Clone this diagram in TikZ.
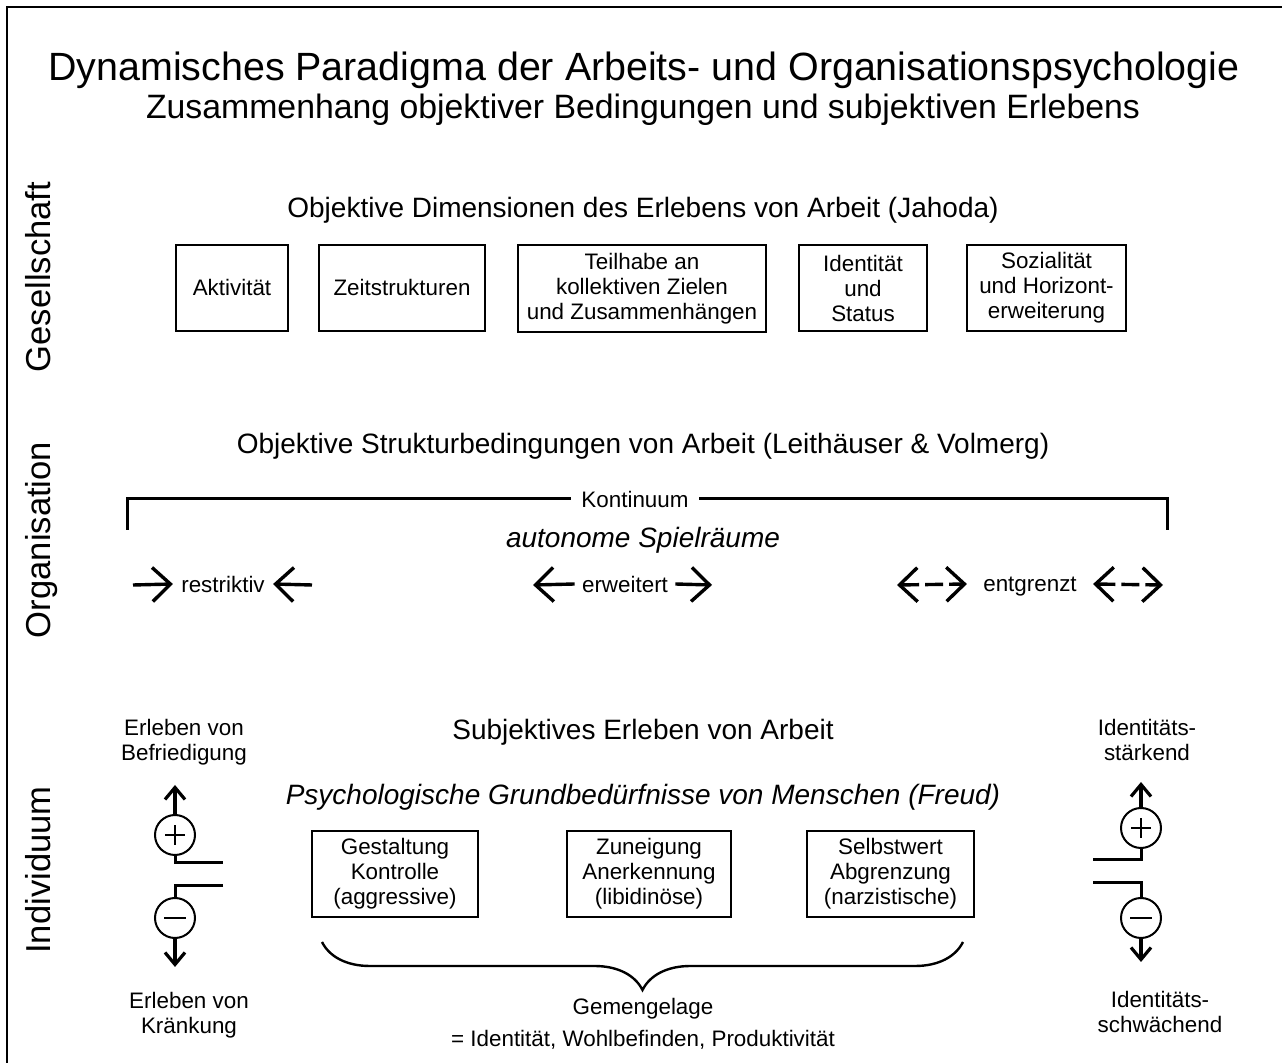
\documentclass[tikz,border=0pt]{standalone}
\usepackage{fontspec}
\setmainfont{Liberation Sans}
\usetikzlibrary{arrows.meta,decorations.pathreplacing}

\newcommand{\dpTitle}{\fontsize{19.7}{23}\selectfont}
\newcommand{\dpSub}{\fontsize{16.9}{20}\selectfont}
\newcommand{\dpHead}{\fontsize{14}{17}\selectfont}
\newcommand{\dpSide}{\fontsize{17.3}{20}\selectfont}
\newcommand{\dpSmall}{\fontsize{11.2}{12.5}\selectfont}

\begin{document}
\begin{tikzpicture}[x=0.5pt,y=0.5pt,yscale=-1,xscale=1,
  box/.style={draw,line width=0.9pt,align=center,font=\dpSmall,inner sep=0pt},
  txt/.style={align=center,font=\dpSmall},
  head/.style={font=\dpHead},
  side/.style={font=\dpSide,rotate=90,anchor=base},
  orgarrow/.style={line width=1.7pt,-{Straight Barb[length=9pt,width=17pt]}},
  orgdash/.style={line width=1.7pt,dash pattern=on 9pt off 3pt,{Straight Barb[length=9pt,width=17pt]}-{Straight Barb[length=9pt,width=17pt]}},
  bracket/.style={line width=1.5pt},
  sign/.style={draw,circle,line width=1pt,minimum size=20pt,inner sep=0pt},
  plus/.style={sign,path picture={\draw[line width=0.8pt] ([xshift=-5pt]path picture bounding box.center) -- ([xshift=5pt]path picture bounding box.center) ([yshift=-5pt]path picture bounding box.center) -- ([yshift=5pt]path picture bounding box.center);}},
  minus/.style={sign,path picture={\draw[line width=0.8pt] ([xshift=-5.5pt]path picture bounding box.center) -- ([xshift=5.5pt]path picture bounding box.center);}},
  signline/.style={line width=1.5pt},
  signarrow/.style={line width=1.6pt,-{Straight Barb[length=6pt,width=10pt]}}]
\useasboundingbox (0,0) rectangle (1282,1063);

%Frame
\draw [line width=1pt] (7,1063) -- (7,7) -- (1282,7) ;

% Title
\node (tit) at (644,70) [font=\dpTitle] {Dynamisches Paradigma der Arbeits- und Organisationspsychologie};
\node (subtit) at (643,110) [font=\dpSub] {Zusammenhang objektiver Bedingungen und subjektiven Erlebens};

% Side labels
\node (gesell) at (50,277) [side] {Gesellschaft};
\node (organis) at (50,540) [side] {Organisation};
\node (indiv) at (50,870) [side] {Individuum};

% Gesellschaft
\node (dimhead) at (643,210) [head] {Objektive Dimensionen des Erlebens von Arbeit (Jahoda)};
\node (akt) at (232,288) [box,minimum width=56pt,minimum height=43pt] {Aktivität};
\node (zeit) at (402,288) [box,minimum width=83pt,minimum height=43pt] {Zeitstrukturen};
\node (teil) at (642,288.5) [box,minimum width=124pt,minimum height=43.5pt] {Teilhabe an\\kollektiven Zielen\\und Zusammenhängen};
\node (ident) at (863,288) [box,minimum width=64pt,minimum height=43pt] {Identität\\und\\Status};
\node (sozial) at (1046.5,288) [box,minimum width=79.5pt,minimum height=43pt] {Sozialität\\und Horizont-\\erweiterung};

% Organisation
\node (strukhead) at (643,446) [head] {Objektive Strukturbedingungen von Arbeit (Leithäuser \& Volmerg)};
\node (kont) at (635,499) [txt,inner xsep=5pt] {Kontinuum};
\coordinate (kontL) at (127,530);
\coordinate (kontR) at (1167,530);
\draw [bracket] (kontL) |- (kont.west) ;
\draw [bracket] (kontR) |- (kont.east) ;
\node (autonom) at (643,540) [head,font=\dpHead\itshape] {autonome Spielräume};

\node (restr) at (223,584) [txt,inner xsep=4pt] {restriktiv};
\coordinate (restrA) at (133,585);
\coordinate (restrB) at (312,585);
\draw [orgarrow] (restrA) -- (restr.west) ;
\draw [orgarrow] (restrB) -- (restr.east) ;

\node (erweit) at (625,584) [txt,inner xsep=3.5pt] {erweitert};
\coordinate (erweitA) at (533,585);
\coordinate (erweitB) at (712,585);
\draw [orgarrow] (erweit.west) -- (erweitA) ;
\draw [orgarrow] (erweit.east) -- (erweitB) ;

\node (entgr) at (1030,584) [txt,inner xsep=8pt,text depth=0pt] {entgrenzt};
\coordinate (entgrA) at (897,585);
\coordinate (entgrB) at (1163,585);
\draw [orgdash] (entgrA) -- (entgr.west) ;
\draw [orgdash] (entgr.east) -- (entgrB) ;

% Individuum
\node (subjhead) at (643,732) [head] {Subjektives Erleben von Arbeit};
\node (grundhead) at (643,797) [head,font=\dpHead\itshape] {Psychologische Grundbedürfnisse von Menschen (Freud)};
\node (gest) at (395,874) [box,minimum width=83pt,minimum height=43pt] {Gestaltung\\Kontrolle\\(aggressive)};
\node (zuneig) at (649,874) [box,minimum width=82pt,minimum height=43pt] {Zuneigung\\Anerkennung\\(libidinöse)};
\node (selbst) at (890.5,874) [box,minimum width=83.5pt,minimum height=43pt] {Selbstwert\\Abgrenzung\\(narzistische)};

% Brace
\coordinate (braceL) at (322,942);
\coordinate (braceR) at (963,942);
\draw [line width=1.2pt,decorate,decoration={brace,amplitude=24pt,mirror}] (braceL) -- (braceR) ;
\node (gemeng) at (643,1009) [txt] {Gemengelage};
\node (gemengeq) at (643,1040) [txt] {= Identität, Wohlbefinden, Produktivität};

% left signs
\node (befr) at (184,742) [txt] {Erleben von\\Befriedigung};
\node (kraenk) at (189,1015) [txt] {Erleben von\\Kränkung};
\node (plusL) at (175,835) [plus] {};
\node (minusL) at (175,918) [minus] {};
\coordinate (plusLtip) at (175,785);
\coordinate (minusLtip) at (175,967);
\coordinate (gapLa) at (223,863);
\coordinate (gapLb) at (223,886);
\draw [signarrow] (plusL.north) -- (plusLtip) ;
\draw [signarrow] (minusL.south) -- (minusLtip) ;
\draw [signline] (plusL.south) |- (gapLa) ;
\draw [signline] (gapLb) -| (minusL.north) ;

% right signs
\node (staerk) at (1147,740) [txt] {Identitäts-\\stärkend};
\node (schwaech) at (1160,1012) [txt] {Identitäts-\\schwächend};
\node (plusR) at (1141,828) [plus] {};
\node (minusR) at (1141,918) [minus] {};
\coordinate (plusRtip) at (1141,782);
\coordinate (minusRtip) at (1141,962);
\coordinate (gapRa) at (1093,860);
\coordinate (gapRb) at (1093,883);
\draw [signarrow] (plusR.north) -- (plusRtip) ;
\draw [signarrow] (minusR.south) -- (minusRtip) ;
\draw [signline] (plusR.south) |- (gapRa) ;
\draw [signline] (gapRb) -| (minusR.north) ;

\end{tikzpicture}
\end{document}
